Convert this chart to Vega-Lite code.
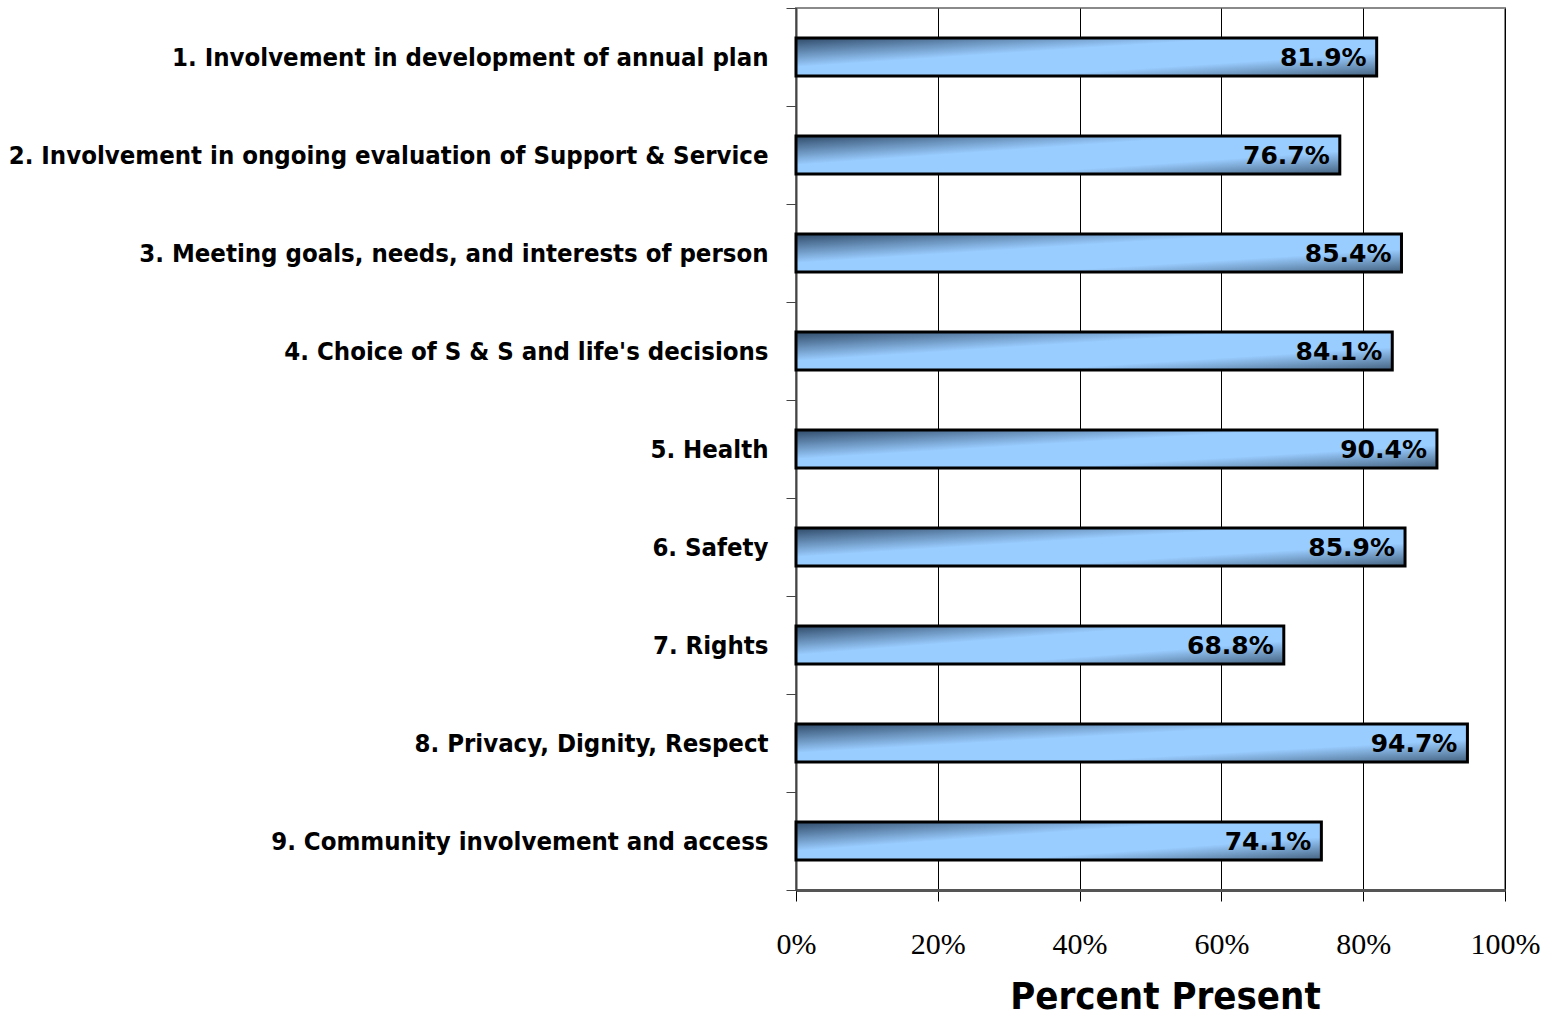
{
  "$schema": "https://vega.github.io/schema/vega-lite/v6.json",
  "autosize": {"type": "none"},
  "padding": {"left": 796, "top": 8, "right": 55, "bottom": 126},
  "width": 709,
  "height": 882,
  "background": "white",
  "config": {
    "view": {"stroke": "#8a8a8a", "strokeWidth": 2}
  },
  "data": {
    "values": [
      {"item": "1. Involvement in development of annual plan", "value": 0.819},
      {"item": "2. Involvement in ongoing evaluation of Support & Service", "value": 0.767},
      {"item": "3. Meeting goals, needs, and interests of person", "value": 0.854},
      {"item": "4. Choice of S & S and life's decisions", "value": 0.841},
      {"item": "5. Health", "value": 0.904},
      {"item": "6. Safety", "value": 0.859},
      {"item": "7. Rights", "value": 0.688},
      {"item": "8. Privacy, Dignity, Respect", "value": 0.947},
      {"item": "9. Community involvement and access", "value": 0.741}
    ]
  },
  "encoding": {
    "y": {
      "field": "item",
      "type": "nominal",
      "sort": null,
      "scale": {"paddingInner": 0, "paddingOuter": 0},
      "axis": {
        "title": null,
        "tickBand": "extent",
        "tickSize": 10,
        "tickColor": "#444",
        "tickWidth": 1,
        "domainColor": "#444",
        "domainWidth": 2,
        "labelPadding": 18,
        "labelLimit": 900,
        "labelFont": "'DejaVu Sans Condensed', Roboto, sans-serif",
        "labelFontSize": 25.5,
        "labelFontWeight": "bold",
        "labelColor": "black"
      }
    }
  },
  "layer": [
    {
      "mark": {
        "type": "bar",
        "size": 38,
        "stroke": "black",
        "strokeWidth": 3,
        "fill": {
          "gradient": "linear",
          "x1": 0, "y1": 0, "x2": 1, "y2": 1,
          "stops": [
            {"offset": 0, "color": "#2f4a68"},
            {"offset": 0.38, "color": "#99ccff"},
            {"offset": 0.7, "color": "#99ccff"},
            {"offset": 1, "color": "#44627f"}
          ]
        }
      },
      "encoding": {
        "x": {
          "field": "value",
          "type": "quantitative",
          "scale": {"domain": [0, 1], "nice": false},
          "axis": {
            "title": "Percent Present",
            "format": ".0%",
            "values": [0, 0.2, 0.4, 0.6, 0.8, 1],
            "grid": true,
            "gridColor": "black",
            "gridWidth": 1,
            "gridOpacity": 1,
            "tickSize": 11,
            "tickColor": "black",
            "domainColor": "#555",
            "domainWidth": 3,
            "labelPadding": 28,
            "labelFont": "Liberation Serif",
            "labelFontSize": 30,
            "labelColor": "black",
            "labelFlush": false,
            "titleFont": "'DejaVu Sans Condensed', Roboto, sans-serif",
            "titleFontSize": 38,
            "titleFontWeight": "bold",
            "titleColor": "black",
            "titleX": 369,
            "titleY": 118,
            "titleAlign": "center",
            "titleBaseline": "alphabetic"
          }
        }
      }
    },
    {
      "mark": {
        "type": "text",
        "align": "right",
        "baseline": "middle",
        "dx": -10,
        "dy": 1,
        "font": "DejaVu Sans",
        "fontWeight": "bold",
        "fontSize": 25,
        "color": "black"
      },
      "encoding": {
        "x": {"field": "value", "type": "quantitative"},
        "text": {"field": "value", "type": "quantitative", "format": ".1%"}
      }
    }
  ]
}
